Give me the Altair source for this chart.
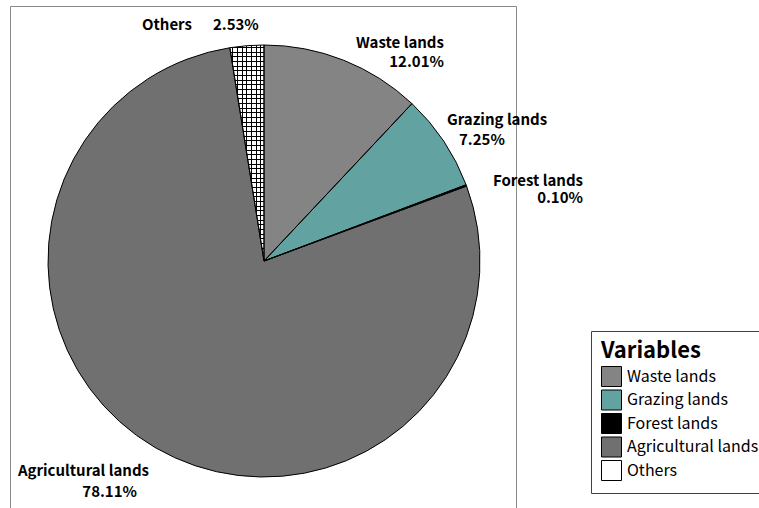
import math

import altair as alt
import pandas as pd

# Land-use shares (percent of total area)
categories = ["Waste lands", "Grazing lands", "Forest lands", "Agricultural lands", "Others"]
shares = [12.01, 7.25, 0.10, 78.11, 2.53]
fills = ["#848484", "#62a2a0", "#000000", "#707070", "#ffffff"]

df = pd.DataFrame({"category": categories, "share": shares, "rank": list(range(len(categories)))})
df["pct"] = [f"{v:.2f}%" for v in shares]

CX, CY, R = 264, 261, 216
FONT = "Noto Sans CJK JP"

theta_scale = alt.Scale(domain=[0, 100], range=[0, 2 * math.pi])

base = (
    alt.Chart(df)
    .transform_window(end="sum(share)", sort=[alt.SortField("rank")], frame=[None, 0])
    .transform_calculate(start="datum.end - datum.share", mid="datum.end - datum.share / 2")
)

theta_enc = dict(
    theta=alt.Theta("start:Q", scale=theta_scale, stack=None),
    theta2="end:Q",
    x=alt.value(CX),
    y=alt.value(CY),
)

legend = alt.Legend(
    title="Variables",
    orient="none",
    legendX=591,
    legendY=331,
    direction="vertical",
    padding=10,
    strokeColor="#404040",
    fillColor="white",
    symbolType="square",
    symbolSize=400,
    symbolStrokeColor="black",
    symbolStrokeWidth=1,
    symbolOpacity=1,
    labelFont=FONT,
    labelFontSize=16,
    labelColor="black",
    labelOffset=5,
    titleFont=FONT,
    titleFontSize=22,
    titleFontWeight="bold",
    titleColor="black",
    titlePadding=3,
    rowPadding=-1.5,
)

pie = base.mark_arc(outerRadius=R, strokeWidth=0).encode(
    color=alt.Color(
        "category:N",
        scale=alt.Scale(domain=categories, range=fills),
        sort=categories,
        legend=legend,
    ),
    **theta_enc,
)


def stripes(positions, lo, span, thick, bg, fg):
    stops = [alt.GradientStop(color=bg, offset=0)]
    for p in sorted(positions):
        a = max(0.0, (p - lo) / span)
        b = min(1.0, (p + thick - lo) / span)
        stops += [
            alt.GradientStop(color=bg, offset=a),
            alt.GradientStop(color=fg, offset=a),
            alt.GradientStop(color=fg, offset=b),
            alt.GradientStop(color=bg, offset=b),
        ]
    stops.append(alt.GradientStop(color=bg, offset=1))
    return stops


# Grid hatch for the "Others" wedge (two stripe gradients stacked)
x_lo = CX - R * math.sin(math.radians(shares[-1] * 3.6))
x_span = CX - x_lo
step = 4.67
v_lines = [CX - 3.5 - k * step for k in range(7)]
h_lines = [CY - R + 2 + k * step for k in range(int(R / step))]

grid_v = alt.Gradient(
    gradient="linear", x1=0, y1=0, x2=1, y2=0,
    stops=stripes(v_lines, x_lo, x_span, 1.0, "#ffffff", "#000000"),
)
grid_h = alt.Gradient(
    gradient="linear", x1=0, y1=0, x2=0, y2=1,
    stops=stripes(h_lines, CY - R, R, 1.0, "rgba(0,0,0,0)", "#000000"),
)

others = base.transform_filter("datum.category == 'Others'")
others_v = others.mark_arc(outerRadius=R, fill=grid_v, strokeWidth=0).encode(**theta_enc)
others_h = others.mark_arc(outerRadius=R, fill=grid_h, strokeWidth=0).encode(**theta_enc)

outline = base.mark_arc(
    outerRadius=R, fillOpacity=0, stroke="black", strokeWidth=1
).encode(**theta_enc)

frame = (
    alt.Chart(pd.DataFrame({"k": [0]}))
    .mark_rect(fillOpacity=0, stroke="#8a8a8a", strokeWidth=1)
    .encode(x=alt.value(10.5), x2=alt.value(516.5), y=alt.value(6.5), y2=alt.value(540))
)

# Slice labels: (category, field, align, dx, dy) offsets from the mid-angle anchor
label_specs = [
    ("Waste lands", "category", "right", 89.7, 9.8),
    ("Waste lands", "pct", "right", 89.7, 28.3),
    ("Grazing lands", "category", "left", -20.8, -5.3),
    ("Grazing lands", "pct", "left", -8.8, 15.2),
    ("Forest lands", "category", "right", 89.5, 5.5),
    ("Forest lands", "pct", "right", 89.5, 23.0),
    ("Agricultural lands", "category", "right", 8.6, -1.6),
    ("Agricultural lands", "pct", "right", -3.4, 19.1),
    ("Others", "category", "right", -52.6, 8.2),
    ("Others", "pct", "left", -31.6, 8.2),
]

labels = []
for cat, field, align, dx, dy in label_specs:
    labels.append(
        base.transform_filter(alt.datum.category == cat)
        .mark_text(
            radius=245, align=align, baseline="middle", dx=dx, dy=dy,
            font=FONT, fontSize=15, fontWeight="bold", color="black",
        )
        .encode(
            theta=alt.Theta("mid:Q", scale=theta_scale, stack=None),
            x=alt.value(CX),
            y=alt.value(CY),
            text=f"{field}:N",
        )
    )

chart = (
    alt.layer(pie, others_v, others_h, outline, frame, *labels)
    .properties(width=759, height=508, padding=0, autosize="none", background="white")
    .configure_view(stroke=None)
)

chart.save("out.html", embed_options={"renderer": "svg", "actions": False})
